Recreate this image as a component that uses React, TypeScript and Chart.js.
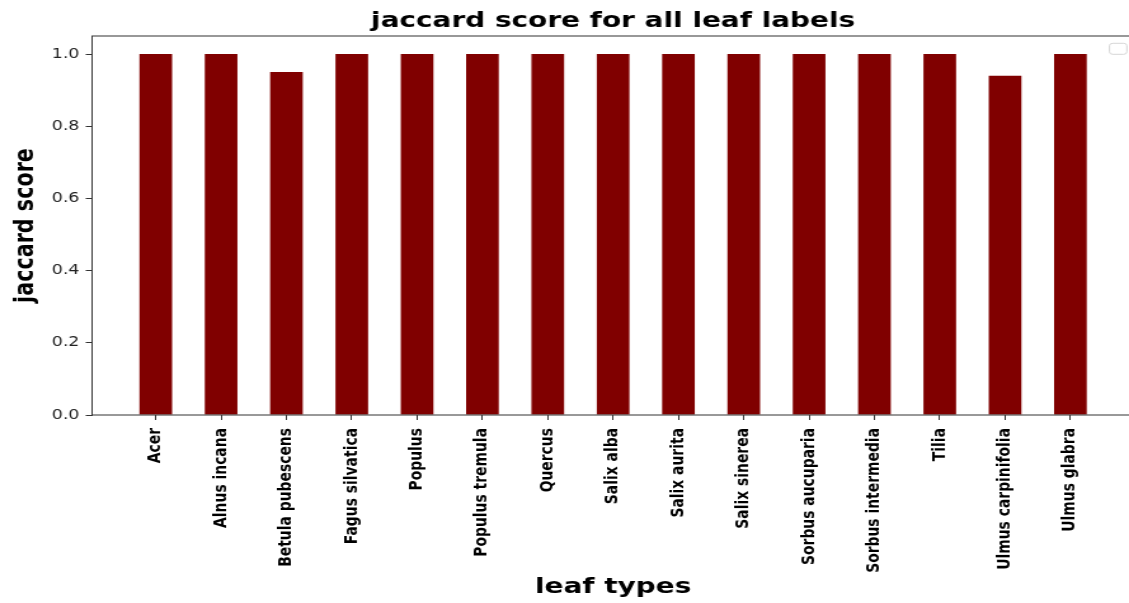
import React, { useEffect, useRef } from "react";
import { Chart, registerables } from "chart.js";

Chart.register(...registerables);

const categories = [
  "Acer",
  "Alnus incana",
  "Betula pubescens",
  "Fagus silvatica",
  "Populus",
  "Populus tremula",
  "Quercus",
  "Salix alba",
  "Salix aurita",
  "Salix sinerea",
  "Sorbus aucuparia",
  "Sorbus intermedia",
  "Tilia",
  "Ulmus carpinifolia",
  "Ulmus glabra",
];
const scores = [1, 1, 0.95, 1, 1, 1, 1, 1, 1, 1, 1, 1, 1, 0.94, 1];
const yTickValues = [0, 0.2, 0.4, 0.6, 0.8, 1.0];

const chartTitle = "jaccard score for all leaf labels";
const xTitle = "leaf types";
const yTitle = "jaccard score";

const STRETCH = 1.27;
const FONT = "'DejaVu Sans', sans-serif";

const framePlugin = {
  id: "frameAndLegend",
  afterDraw(chart: any) {
    const { ctx, chartArea } = chart;
    ctx.save();
    ctx.strokeStyle = "#333";
    ctx.lineWidth = 1;
    ctx.strokeRect(
      chartArea.left,
      chartArea.top,
      chartArea.right - chartArea.left,
      chartArea.bottom - chartArea.top
    );
    // empty legend box (matplotlib legend with no entries)
    const bx = chartArea.right - 19.4;
    const by = chartArea.top + 7.3;
    ctx.beginPath();
    ctx.roundRect(bx, by, 13.7, 11, 2.5);
    ctx.fillStyle = "rgba(255,255,255,0.8)";
    ctx.fill();
    ctx.strokeStyle = "#d6d6d6";
    ctx.stroke();
    ctx.restore();
  },
};

export default function App() {
  const canvasRef = useRef<HTMLCanvasElement | null>(null);

  useEffect(() => {
    const canvas = canvasRef.current;
    if (!canvas) return;
    const chart = new Chart(canvas, {
      type: "bar",
      data: {
        datasets: [
          {
            label: "jaccard",
            data: scores.map((v, i) => ({ x: i, y: v })),
            backgroundColor: "#800000",
            borderWidth: 0,
            barPercentage: 0.5,
            categoryPercentage: 1,
          },
        ],
      },
      plugins: [framePlugin],
      options: {
        animation: false,
        responsive: false,
        devicePixelRatio: 1,
        layout: { padding: { left: 0, right: 7, top: 0, bottom: 0 } },
        plugins: {
          legend: { display: false },
          tooltip: { enabled: false },
          title: {
            display: true,
            text: chartTitle,
            fullSize: false,
            color: "#000",
            font: { family: FONT, size: 22, weight: "bold", lineHeight: 1.2 },
            padding: { top: 8, bottom: 1.6 },
          },
        },
        scales: {
          x: {
            type: "linear",
            min: -0.975,
            max: 14.975,
            offset: false,
            afterBuildTicks: (scale: any) => {
              scale.ticks = categories.map((_, i) => ({ value: i }));
            },
            afterFit: (scale: any) => {
              scale.height = 188;
            },
            grid: {
              display: true,
              offset: false,
              drawOnChartArea: false,
              drawTicks: true,
              tickLength: 5,
              color: "#333",
              lineWidth: 1,
            },
            border: { display: false },
            ticks: {
              autoSkip: false,
              minRotation: 90,
              maxRotation: 90,
              padding: 8,
              color: "#000",
              font: { family: FONT, size: 13.9, weight: "bold" },
              callback: (value: any) => categories[Math.round(Number(value))],
            },
            title: {
              display: true,
              text: xTitle,
              color: "#000",
              font: { family: FONT, size: 22, weight: "bold", lineHeight: 1.2 },
              padding: { top: 0, bottom: 2.8 },
            },
          },
          y: {
            type: "linear",
            min: 0,
            max: 1.05,
            afterBuildTicks: (scale: any) => {
              scale.ticks = yTickValues.map((v) => ({ value: v }));
            },
            afterFit: (scale: any) => {
              scale.width = 72.5;
            },
            grid: {
              display: true,
              drawOnChartArea: false,
              drawTicks: true,
              tickLength: 5,
              color: "#333",
              lineWidth: 1,
            },
            border: { display: false },
            ticks: {
              padding: 5,
              color: "#222",
              font: { family: FONT, size: 13.7 },
              callback: (value: any) => Number(value).toFixed(1),
            },
            title: {
              display: true,
              text: yTitle,
              color: "#000",
              font: { family: FONT, size: 20.7, weight: "bold", lineHeight: 1.2 },
              padding: { top: 8.6, bottom: 0 },
            },
          },
        },
      },
    } as any);
    return () => chart.destroy();
  }, []);

  return (
    <div
      style={{
        position: "fixed",
        left: 0,
        top: 0,
        width: 1129,
        height: 603,
        overflow: "hidden",
        background: "#fff",
      }}
    >
      <canvas
        ref={canvasRef}
        width={900}
        height={603}
        style={{
          display: "block",
          transform: `scaleX(${STRETCH})`,
          transformOrigin: "0 0",
        }}
      />
    </div>
  );
}
